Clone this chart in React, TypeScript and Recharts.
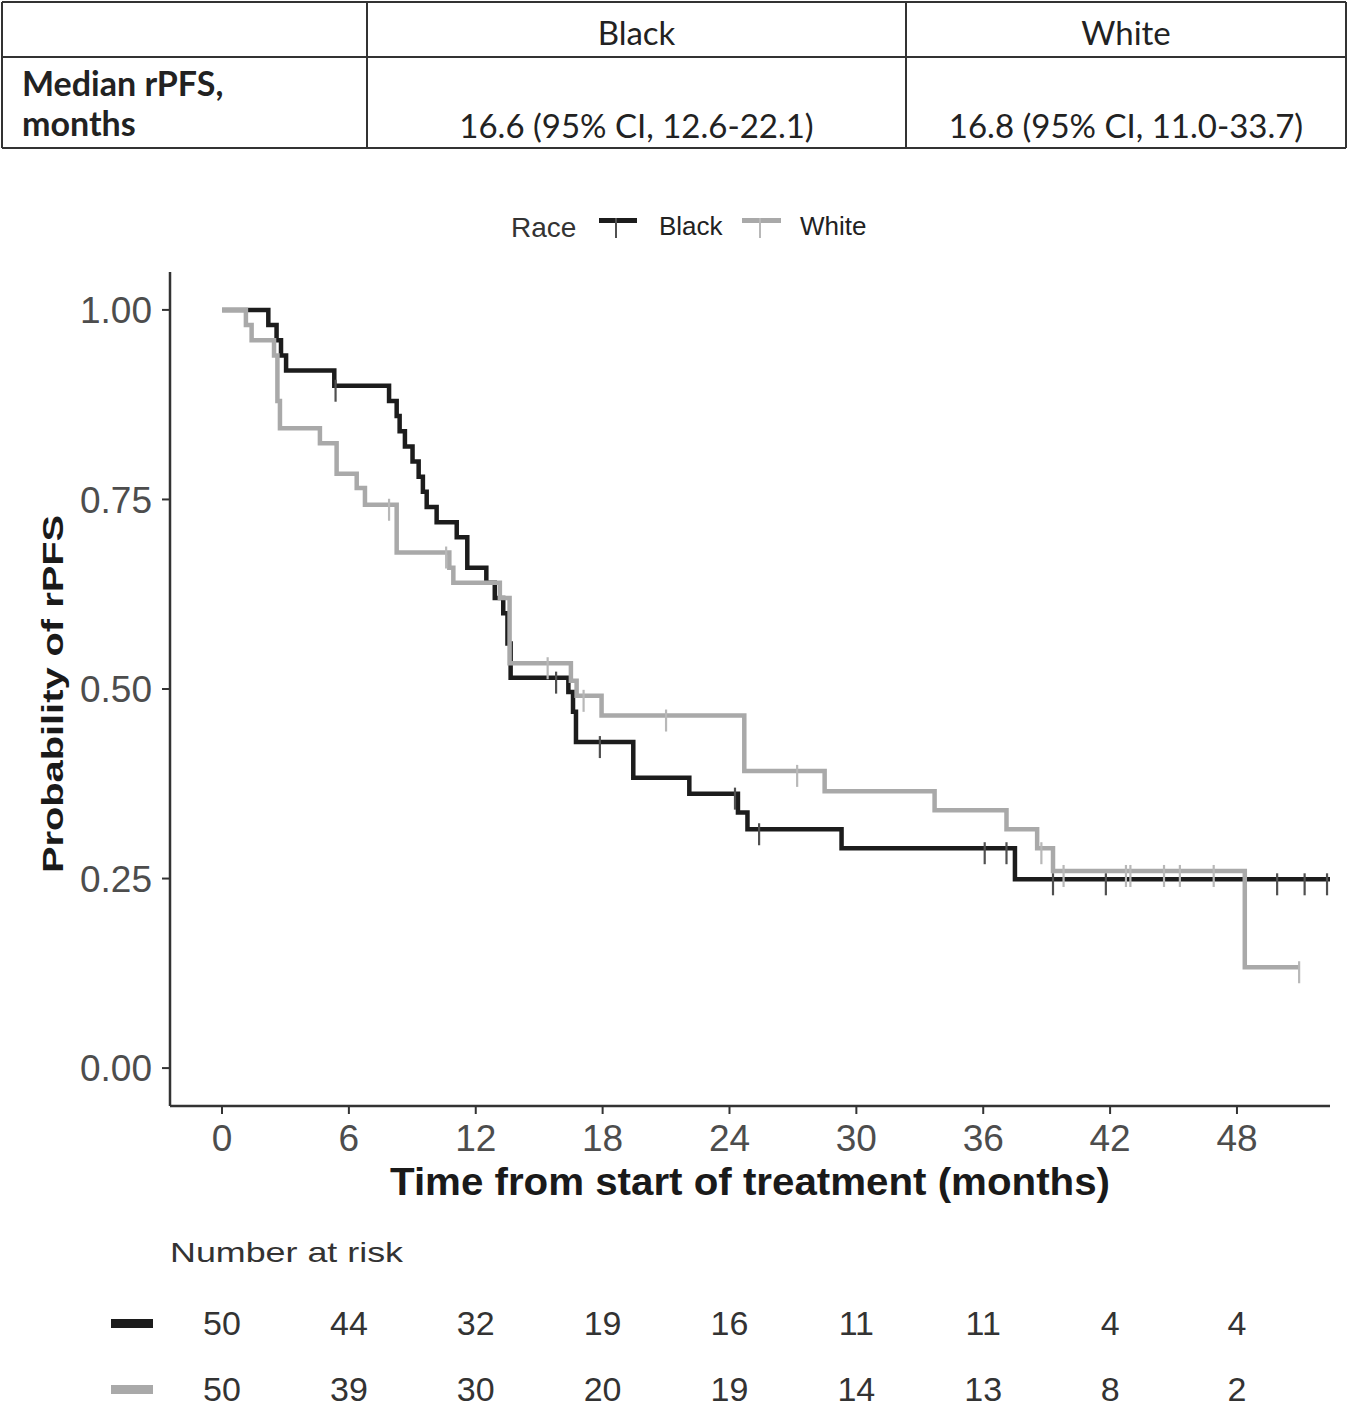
import React from 'react';
import { ComposedChart, Line, Scatter, XAxis, YAxis, Label } from 'recharts';

// ---- Kaplan-Meier steps (time in months, survival probability) ----
const blackTimes = [0, 2.19, 2.58, 2.79, 3.03, 5.31, 7.9, 8.26, 8.4, 8.65, 9.01, 9.3, 9.5, 9.68, 10.15, 11.1, 11.6, 12.5, 12.9, 13.3, 13.5, 13.65, 16.38, 16.6, 16.74, 19.45, 22.1, 24.4, 24.85, 29.3, 37.5, 52.4];
const blackSurv = [1, 0.98, 0.96, 0.94, 0.92, 0.9, 0.88, 0.86, 0.84, 0.82, 0.8, 0.78, 0.76, 0.74, 0.72, 0.7, 0.66, 0.64, 0.62, 0.6, 0.56, 0.515, 0.496, 0.47, 0.43, 0.383, 0.362, 0.337, 0.315, 0.29, 0.249, 0.249];
const blackCensorTimes = [5.37, 15.8, 17.87, 24.26, 25.4, 36.07, 37.1, 39.3, 41.8, 49.9, 51.2, 52.26];

const whiteTimes = [0, 1.13, 1.4, 2.46, 2.62, 2.74, 4.63, 5.42, 6.37, 6.76, 8.26, 10.75, 10.94, 13.14, 13.6, 16.5, 16.77, 17.95, 24.7, 28.5, 33.7, 37.1, 38.55, 39.3, 48.37, 50.94];
const whiteSurv = [1, 0.98, 0.96, 0.94, 0.88, 0.844, 0.824, 0.784, 0.765, 0.743, 0.68, 0.66, 0.64, 0.62, 0.534, 0.511, 0.491, 0.465, 0.392, 0.365, 0.34, 0.315, 0.29, 0.26, 0.133, 0.133];
const whiteCensorTimes = [7.9, 10.6, 15.4, 17.1, 21.0, 27.2, 38.75, 39.8, 42.75, 42.96, 44.55, 45.3, 46.9, 50.94];

// ---- axes ----
const xTicks = [0, 6, 12, 18, 24, 30, 36, 42, 48];
const yTicks = [0, 0.25, 0.5, 0.75, 1];

// ---- number at risk ----
const riskTimes = [0, 6, 12, 18, 24, 30, 36, 42, 48];
const blackRisk = [50, 44, 32, 19, 16, 11, 11, 4, 4];
const whiteRisk = [50, 39, 30, 20, 19, 14, 13, 8, 2];

// ---- table ----
const tableHeaders = ['Black', 'White'];
const tableRowLabel = ['Median rPFS,', 'months'];
const tableValues = ['16.6 (95% CI, 12.6-22.1)', '16.8 (95% CI, 11.0-33.7)'];

const BLACK = '#1c1c1c';
const GRAY = '#a9a9a9';
const BLACK_TICK = '#505050';
const GRAY_TICK = '#b8b8b8';
const ARIAL = '"Liberation Sans", Arial, sans-serif';
const CAL = 'Lato, "Open Sans", sans-serif';

const stepAt = (times: number[], surv: number[], t: number) => {
  let v = surv[0];
  for (let i = 0; i < times.length; i++) if (times[i] <= t) v = surv[i];
  return v;
};

const blackData = blackTimes.map((t, i) => ({ t, s: blackSurv[i] }));
const whiteData = whiteTimes.map((t, i) => ({ t, s: whiteSurv[i] }));
const blackCensor = blackCensorTimes.map((t) => ({ t, s: stepAt(blackTimes, blackSurv, t) }));
const whiteCensor = whiteCensorTimes.map((t) => ({ t, s: stepAt(whiteTimes, whiteSurv, t) }));
const riskData = [
  ...riskTimes.map((t, i) => ({ t, row: 1.5, n: blackRisk[i] })),
  ...riskTimes.map((t, i) => ({ t, row: 0.5, n: whiteRisk[i] })),
];

const X_DOMAIN: [number, number] = [-2.46, 52.4];

const censorShape = (color: string) => (props: any) => {
  const { cx, cy } = props;
  if (cx == null || cy == null) return <g />;
  return <line x1={cx} x2={cx} y1={cy - 6} y2={cy + 16} stroke={color} strokeWidth={2.2} />;
};

const riskShape = (props: any) => {
  const { cx, cy } = props;
  const n = props.payload ? props.payload.n : props.n;
  return (
    <text x={cx} y={cy} dy="0.36em" textAnchor="middle" fontFamily={ARIAL} fontSize={34} fill="#333">
      {n}
    </text>
  );
};

const XTitle = (props: any) => {
  const vb = props.viewBox || { x: 170, y: 1106, width: 1160, height: 100 };
  return (
    <text
      x={vb.x + vb.width / 2}
      y={vb.y + 89}
      textAnchor="middle"
      fontFamily={ARIAL}
      fontWeight="bold"
      fontSize={38}
      fill="#1a1a1a"
      textLength={720}
      lengthAdjust="spacingAndGlyphs"
    >
      Time from start of treatment (months)
    </text>
  );
};

const YTitle = (props: any) => {
  const vb = props.viewBox || { x: 0, y: 272, width: 170, height: 834 };
  const x = vb.x + 63;
  const y = vb.y + vb.height / 2 + 5;
  return (
    <text
      x={x}
      y={y}
      transform={`rotate(-90 ${x} ${y})`}
      textAnchor="middle"
      fontFamily={ARIAL}
      fontWeight="bold"
      fontSize={30}
      fill="#1a1a1a"
      textLength={358}
      lengthAdjust="spacingAndGlyphs"
    >
      Probability of rPFS
    </text>
  );
};

export default function App() {
  return (
    <div style={{ position: 'absolute', left: 0, top: 0, width: 1348, height: 1407, background: '#fff', overflow: 'hidden' }}>
      <svg width={1348} height={1407} style={{ position: 'absolute', left: 0, top: 0 }}>
        {/* table */}
        <g stroke="#333" strokeWidth={2}>
          <line x1={2} x2={1346} y1={2} y2={2} />
          <line x1={2} x2={1346} y1={57} y2={57} />
          <line x1={2} x2={1346} y1={148} y2={148} />
          <line x1={2} x2={2} y1={2} y2={148} />
          <line x1={367} x2={367} y1={2} y2={148} />
          <line x1={906} x2={906} y1={2} y2={148} />
          <line x1={1346} x2={1346} y1={2} y2={148} />
        </g>
        <g fontFamily={CAL} fontSize={33} fill="#222">
          <text x={636.5} y={45} textAnchor="middle">{tableHeaders[0]}</text>
          <text x={1126} y={45} textAnchor="middle">{tableHeaders[1]}</text>
          <text x={22} y={96} fontWeight="bold" fontSize={34}>{tableRowLabel[0]}</text>
          <text x={22} y={136} fontWeight="bold" fontSize={34}>{tableRowLabel[1]}</text>
          <text x={636.5} y={138} textAnchor="middle">{tableValues[0]}</text>
          <text x={1126} y={138} textAnchor="middle">{tableValues[1]}</text>
        </g>
        {/* legend */}
        <g fontFamily={ARIAL}>
          <text x={511} y={237} fontSize={28} fill="#333">Race</text>
          <line x1={599} x2={637} y1={220.5} y2={220.5} stroke={BLACK} strokeWidth={5} />
          <line x1={616} x2={616} y1={218} y2={238} stroke={BLACK_TICK} strokeWidth={2} />
          <text x={659} y={235} fontSize={26} fill="#222">Black</text>
          <line x1={742} x2={781} y1={220.5} y2={220.5} stroke={GRAY} strokeWidth={5} />
          <line x1={760} x2={760} y1={218} y2={238} stroke={GRAY_TICK} strokeWidth={2} />
          <text x={800} y={235} fontSize={26} fill="#222">White</text>
        </g>
        {/* number at risk header and row keys */}
        <text x={170} y={1262} fontFamily={ARIAL} fontSize={28} fill="#333" textLength={233} lengthAdjust="spacingAndGlyphs">
          Number at risk
        </text>
        <rect x={111} y={1319} width={42} height={9} fill={BLACK} />
        <rect x={111} y={1385} width={42} height={9} fill={GRAY} />
      </svg>

      <div style={{ position: 'absolute', left: 0, top: 0 }}>
        <ComposedChart width={1348} height={1230} margin={{ top: 272, right: 18, bottom: 24, left: 0 }}>
          <XAxis
            type="number"
            dataKey="t"
            domain={X_DOMAIN}
            ticks={xTicks}
            interval={0}
            allowDataOverflow
            height={100}
            tickSize={8}
            tickMargin={11}
            stroke="#333"
            axisLine={{ stroke: '#333', strokeWidth: 2.5 }}
            tickLine={{ stroke: '#333', strokeWidth: 2 }}
            tick={{ fontSize: 37, fill: '#4d4d4d', fontFamily: ARIAL }}
          >
            <Label content={<XTitle />} />
          </XAxis>
          <YAxis
            type="number"
            domain={[-0.05, 1.05]}
            ticks={yTicks}
            interval={0}
            allowDataOverflow
            width={170}
            tickSize={8}
            tickMargin={10}
            tickFormatter={(v: number) => v.toFixed(2)}
            axisLine={{ stroke: '#333', strokeWidth: 2.5 }}
            tickLine={{ stroke: '#333', strokeWidth: 2 }}
            tick={{ fontSize: 37, fill: '#4d4d4d', fontFamily: ARIAL }}
          >
            <Label content={<YTitle />} />
          </YAxis>
          <Line data={blackData} dataKey="s" type="stepAfter" stroke={BLACK} strokeWidth={4.5} dot={false} activeDot={false} isAnimationActive={false} />
          <Line data={whiteData} dataKey="s" type="stepAfter" stroke={GRAY} strokeWidth={4.5} dot={false} activeDot={false} isAnimationActive={false} />
          <Scatter data={blackCensor} dataKey="s" shape={censorShape(BLACK_TICK)} isAnimationActive={false} />
          <Scatter data={whiteCensor} dataKey="s" shape={censorShape(GRAY_TICK)} isAnimationActive={false} />
        </ComposedChart>
      </div>

      <div style={{ position: 'absolute', left: 0, top: 1290 }}>
        <ComposedChart width={1348} height={132} margin={{ top: 0, right: 18, bottom: 0, left: 170 }}>
          <XAxis type="number" dataKey="t" domain={X_DOMAIN} allowDataOverflow hide />
          <YAxis type="number" domain={[0, 2]} hide />
          <Scatter data={riskData} dataKey="row" shape={riskShape} isAnimationActive={false} />
        </ComposedChart>
      </div>
    </div>
  );
}
